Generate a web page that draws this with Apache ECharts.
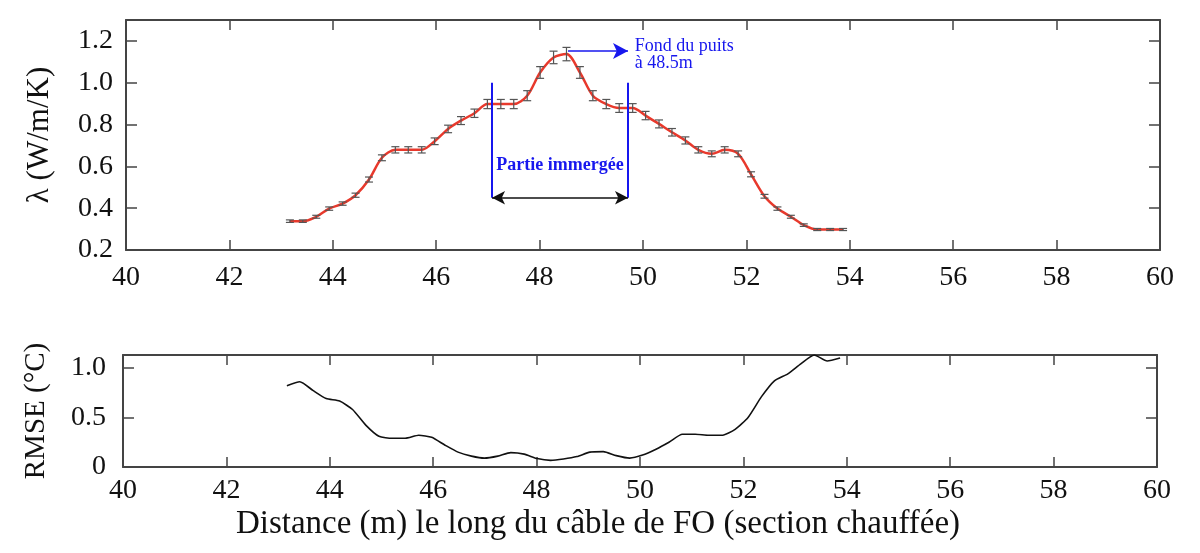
<!DOCTYPE html>
<html>
<head>
<meta charset="utf-8">
<script src="https://cdn.jsdelivr.net/npm/echarts@6/dist/echarts.min.js"></script>
<style>
html,body{margin:0;padding:0;background:#fff}
#main{width:1200px;height:553px}
</style>
</head>
<body>
<div id="main"></div>
<script>
// distance le long du câble (m)
var distance = [43.17,43.42,43.68,43.93,44.19,44.44,44.70,44.95,45.21,45.46,45.72,45.97,46.23,46.48,46.74,46.99,
  47.25,47.50,47.76,48.01,48.27,48.52,48.78,49.03,49.29,49.54,49.80,50.05,50.31,50.56,50.82,51.07,51.33,51.58,
  51.84,52.09,52.35,52.60,52.86,53.11,53.37,53.62,53.87];
// conductivité thermique (W/m/K)
var lambdaValues = [0.338,0.338,0.359,0.398,0.422,0.462,0.537,0.641,0.679,0.679,0.679,0.720,0.779,0.819,0.854,0.898,
  0.898,0.898,0.938,1.049,1.121,1.137,1.049,0.938,0.898,0.879,0.879,0.843,0.803,0.763,0.724,0.679,0.660,0.679,
  0.660,0.562,0.457,0.398,0.359,0.319,0.298,0.298,0.298];
var lambdaErrors = [0.006,0.006,0.007,0.008,0.008,0.010,0.012,0.014,0.015,0.015,0.015,0.016,0.018,0.019,0.020,0.022,
  0.022,0.022,0.024,0.028,0.030,0.032,0.028,0.024,0.022,0.021,0.021,0.020,0.019,0.018,0.017,0.015,0.014,0.015,
  0.014,0.012,0.009,0.008,0.007,0.006,0.005,0.005,0.005];
// RMSE (°C)
var rmseValues = [0.82,0.86,0.77,0.69,0.665,0.58,0.42,0.31,0.29,0.29,0.32,0.30,0.22,0.15,0.11,0.09,
  0.11,0.145,0.13,0.085,0.067,0.08,0.105,0.15,0.155,0.115,0.09,0.12,0.18,0.25,0.33,0.33,0.32,0.32,
  0.38,0.50,0.71,0.87,0.94,1.04,1.13,1.07,1.10];

// annotations
var immergeeStart = 47.08, immergeeEnd = 49.71;
var immergeeTop = 1.0, immergeeArrowY = 0.45;
var fondStart = [48.55, 1.152], fondEnd = [49.71, 1.152];

var font = "'Liberation Serif', 'Times New Roman', serif";
var frameColor = '#444';
var blue = '#1717ee';

var myChart = echarts.init(document.getElementById('main'));

function xAxisCfg(grid, pos, showLabel, margin) {
  return {
    type: 'value', gridIndex: grid, position: pos, min: 40, max: 60, interval: 2,
    axisLine: { show: true, onZero: false, lineStyle: { color: frameColor, width: 2 } },
    axisTick: { show: true, inside: true, length: 10, lineStyle: { color: frameColor, width: 1.5 } },
    axisLabel: { show: showLabel, margin: margin, color: '#111', fontSize: 28, fontFamily: font },
    splitLine: { show: false }
  };
}

var errorData = distance.map(function (d, i) {
  return [d, lambdaValues[i] - lambdaErrors[i], lambdaValues[i] + lambdaErrors[i]];
});

var option = {
  animation: false,
  backgroundColor: '#fff',
  grid: [
    { left: 126, top: 20, width: 1034, height: 230 },
    { left: 123, top: 355, width: 1034, height: 112 }
  ],
  xAxis: [
    xAxisCfg(0, 'bottom', true, 14),
    xAxisCfg(0, 'top', false, 8),
    xAxisCfg(1, 'bottom', true, 10),
    xAxisCfg(1, 'top', false, 8)
  ],
  yAxis: [
    {
      type: 'value', gridIndex: 0, position: 'left', min: 0.2, max: 1.3, interval: 0.2,
      name: 'λ (W/m/K)', nameLocation: 'middle', nameGap: 71, nameRotate: 90,
      nameTextStyle: { fontSize: 31, fontFamily: font, color: '#111' },
      axisLine: { show: true, lineStyle: { color: frameColor, width: 2 } },
      axisTick: { show: true, inside: true, length: 11, lineStyle: { color: frameColor, width: 1.5 } },
      axisLabel: { margin: 13, showMaxLabel: false, color: '#111', fontSize: 28, fontFamily: font,
        formatter: function (v) { return v.toFixed(1); } },
      splitLine: { show: false }
    },
    {
      type: 'value', gridIndex: 0, position: 'right', min: 0.2, max: 1.3, interval: 0.2,
      axisLine: { show: true, lineStyle: { color: frameColor, width: 2 } },
      axisTick: { show: true, inside: true, length: 11, lineStyle: { color: frameColor, width: 1.5 } },
      axisLabel: { show: false }, splitLine: { show: false }
    },
    {
      type: 'value', gridIndex: 1, position: 'left', min: 0, max: 1.13, interval: 0.5,
      name: 'RMSE (°C)', nameLocation: 'middle', nameGap: 72, nameRotate: 90,
      nameTextStyle: { fontSize: 29, fontFamily: font, color: '#111' },
      axisLine: { show: true, lineStyle: { color: frameColor, width: 2 } },
      axisTick: { show: true, inside: true, length: 11, lineStyle: { color: frameColor, width: 1.5 } },
      axisLabel: { margin: 17, showMaxLabel: false, color: '#111', fontSize: 28, fontFamily: font,
        formatter: function (v) { return v === 0 ? '0' : v.toFixed(1); } },
      splitLine: { show: false }
    },
    {
      type: 'value', gridIndex: 1, position: 'right', min: 0, max: 1.13, interval: 0.5,
      axisLine: { show: true, lineStyle: { color: frameColor, width: 2 } },
      axisTick: { show: true, inside: true, length: 11, lineStyle: { color: frameColor, width: 1.5 } },
      axisLabel: { show: false }, splitLine: { show: false }
    }
  ],
  graphic: [
    {
      type: 'text', x: 598, y: 524,
      style: {
        text: 'Distance (m) le long du câble de FO (section chauffée)',
        fontSize: 33, fontFamily: font, fill: '#111', align: 'center', verticalAlign: 'middle'
      }
    }
  ],
  series: [
    {
      name: 'lambda', type: 'line', xAxisIndex: 0, yAxisIndex: 0,
      data: distance.map(function (d, i) { return [d, lambdaValues[i]]; }),
      smooth: 0.3, showSymbol: false, z: 2,
      lineStyle: { color: '#e8392c', width: 2.5 },
      markLine: {
        silent: true, animation: false, label: { show: false },
        data: [
          [{ coord: [immergeeStart, immergeeArrowY], symbol: 'none', lineStyle: { color: blue, width: 2, type: 'solid' } },
           { coord: [immergeeStart, immergeeTop], symbol: 'none' }],
          [{ coord: [immergeeEnd, immergeeArrowY], symbol: 'none', lineStyle: { color: blue, width: 2, type: 'solid' } },
           { coord: [immergeeEnd, immergeeTop], symbol: 'none' }],
          [{ coord: [immergeeStart, immergeeArrowY], symbol: 'arrow', symbolSize: [10, 13], lineStyle: { color: '#111', width: 1.5, type: 'solid' } },
           { coord: [immergeeEnd, immergeeArrowY], symbol: 'arrow', symbolSize: [10, 13] }],
          [{ coord: fondStart, symbol: 'none', lineStyle: { color: blue, width: 1.5, type: 'solid' } },
           { coord: fondEnd, symbol: 'arrow', symbolSize: [12, 15] }]
        ]
      },
      markPoint: {
        silent: true, animation: false, symbolSize: 0,
        data: [
          { coord: [(immergeeStart + immergeeEnd) / 2, 0.605],
            label: { show: true, position: 'inside', formatter: 'Partie immergée', color: blue,
              fontWeight: 'bold', fontSize: 18, fontFamily: font } },
          { coord: [49.84, 1.136],
            label: { show: true, position: 'right', distance: 0, formatter: 'Fond du puits\nà 48.5m', color: blue,
              fontSize: 18, lineHeight: 17, fontFamily: font } }
        ]
      }
    },
    {
      name: 'erreur', type: 'custom', xAxisIndex: 0, yAxisIndex: 0, z: 3,
      data: errorData,
      renderItem: function (params, api) {
        var lo = api.coord([api.value(0), api.value(1)]);
        var hi = api.coord([api.value(0), api.value(2)]);
        var w = 4;
        var st = { stroke: '#555', lineWidth: 1.2 };
        return {
          type: 'group',
          children: [
            { type: 'line', shape: { x1: lo[0], y1: lo[1], x2: hi[0], y2: hi[1] }, style: st },
            { type: 'line', shape: { x1: lo[0] - w, y1: lo[1], x2: lo[0] + w, y2: lo[1] }, style: st },
            { type: 'line', shape: { x1: hi[0] - w, y1: hi[1], x2: hi[0] + w, y2: hi[1] }, style: st }
          ]
        };
      }
    },
    {
      name: 'RMSE', type: 'line', xAxisIndex: 2, yAxisIndex: 2,
      data: distance.map(function (d, i) { return [d, rmseValues[i]]; }),
      smooth: 0.2, showSymbol: false, clip: true,
      lineStyle: { color: '#111', width: 1.6 }
    }
  ]
};

myChart.setOption(option);
window.addEventListener('resize', function () {
  myChart.resize();
});
</script>
</body>
</html>
